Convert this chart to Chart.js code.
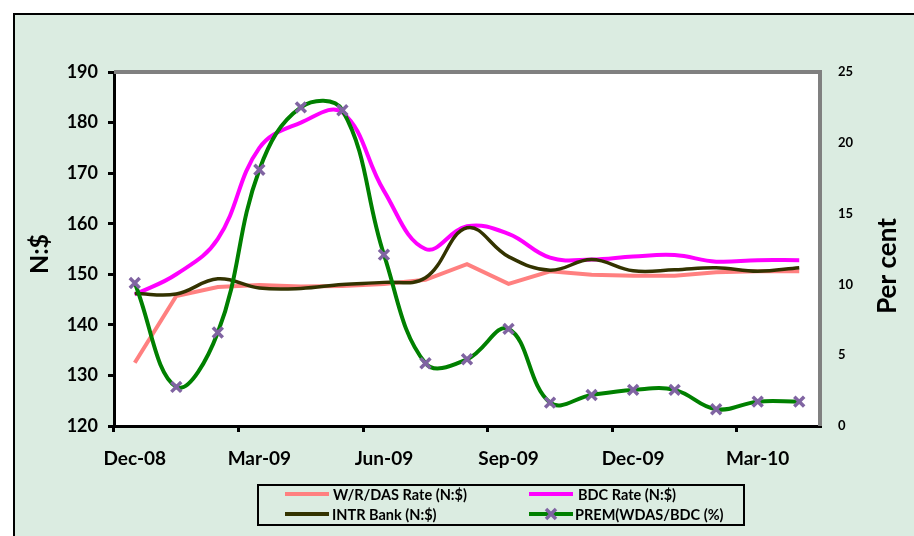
<!DOCTYPE html>
<html>
<head>
<meta charset="utf-8">
<script src="https://cdn.jsdelivr.net/npm/chart.js@4.4.1/dist/chart.umd.min.js"></script>
<style>
  html, body { margin: 0; padding: 0; background: #ffffff; }
  #wrap { width: 914px; height: 536px; position: relative; }
</style>
</head>
<body>
<div id="wrap"><canvas id="c" width="914" height="536"></canvas></div>
<script>
// Monthly observations, Dec-08 .. Apr-10
const months = ['Dec-08','Jan-09','Feb-09','Mar-09','Apr-09','May-09','Jun-09','Jul-09','Aug-09',
                'Sep-09','Oct-09','Nov-09','Dec-09','Jan-10','Feb-10','Mar-10','Apr-10'];

// Exchange rates, N:$
const wdasRate = [132.5, 145.7, 147.5, 147.9, 147.6, 147.7, 148.1, 148.9, 152.0, 148.1, 150.6, 149.9, 149.7, 149.7, 150.4, 150.6, 150.6];
const bdcRate  = [146.0, 150.0, 157.0, 175.0, 180.0, 182.0, 166.5, 155.0, 159.5, 158.0, 153.3, 152.9, 153.5, 153.8, 152.5, 152.8, 152.8];
const intrBank = [146.2, 146.1, 149.1, 147.3, 147.2, 148.0, 148.4, 149.3, 159.2, 153.5, 150.8, 152.9, 150.7, 150.9, 151.3, 150.6, 151.3];

// Premium of WDAS over BDC, per cent
const premium  = [10.1, 2.76, 6.6, 18.1, 22.5, 22.3, 12.1, 4.43, 4.71, 6.86, 1.65, 2.19, 2.55, 2.55, 1.18, 1.72, 1.72];

const legendNames = ['W/R/DAS Rate (N:$)', 'BDC Rate (N:$)', 'INTR Bank (N:$)', 'PREM(WDAS/BDC (%)'];
const leftTitle = 'N:$';
const rightTitle = 'Per cent';

const FONT = 'Lato, "Open Sans", "Liberation Sans", sans-serif';
const C_WDAS = '#ff8080', C_BDC = '#ff00ff', C_INTR = '#333300', C_PREM = '#008000', C_MARK = '#8064a2';

// Frame, plot background, plot border, axis titles and legend
const decor = {
  id: 'decor',
  beforeDraw(chart) {
    const { ctx, chartArea: a } = chart;
    ctx.save();
    ctx.fillStyle = '#ffffff';
    ctx.fillRect(0, 0, chart.width, chart.height);
    ctx.fillStyle = '#dbece1';
    ctx.fillRect(14, 14, chart.width, chart.height);
    ctx.strokeStyle = '#000000';
    ctx.lineWidth = 2;
    ctx.beginPath();
    ctx.moveTo(14, chart.height + 2);
    ctx.lineTo(14, 14);
    ctx.lineTo(chart.width + 2, 14);
    ctx.stroke();
    ctx.fillStyle = '#ffffff';
    ctx.fillRect(a.left, a.top, a.right - a.left, a.bottom - a.top);
    ctx.restore();
  },
  beforeDatasetsDraw(chart) {
    const { ctx, chartArea: a } = chart;
    ctx.save();
    ctx.strokeStyle = '#808080';
    ctx.lineWidth = 4;
    ctx.beginPath();
    ctx.moveTo(a.left, a.top);
    ctx.lineTo(a.right, a.top);
    ctx.lineTo(a.right, a.bottom);
    ctx.stroke();
    ctx.restore();
  },
  afterDraw(chart) {
    const { ctx } = chart;
    ctx.save();
    ctx.fillStyle = '#000000';
    ctx.textAlign = 'center';
    ctx.textBaseline = 'middle';
    // axis titles
    ctx.save();
    ctx.translate(40, 254);
    ctx.rotate(-Math.PI / 2);
    ctx.font = 'bold 25px ' + FONT;
    ctx.fillText(leftTitle, 0, 0);
    ctx.restore();
    ctx.save();
    ctx.translate(888, 266);
    ctx.rotate(-Math.PI / 2);
    ctx.font = 'bold 26px ' + FONT;
    ctx.fillText(rightTitle, 0, 0);
    ctx.restore();

    // legend box
    const bx = 258, by = 485, bw = 486, bh = 40;
    ctx.fillStyle = '#dbece1';
    ctx.fillRect(bx, by, bw, bh);
    ctx.strokeStyle = '#000000';
    ctx.lineWidth = 2;
    ctx.strokeRect(bx, by, bw, bh);
    const items = [
      { x: 285, y: 494, color: C_WDAS, w: 4, text: legendNames[0], tx: 333 },
      { x: 529, y: 494, color: C_BDC, w: 4, text: legendNames[1], tx: 578 },
      { x: 285, y: 514, color: C_INTR, w: 4, text: legendNames[2], tx: 332 },
      { x: 529, y: 514, color: C_PREM, w: 4, text: legendNames[3], tx: 575, marker: true }
    ];
    ctx.font = 'bold 14.5px ' + FONT;
    ctx.textAlign = 'left';
    items.forEach(it => {
      ctx.strokeStyle = it.color;
      ctx.lineWidth = it.w;
      ctx.beginPath();
      ctx.moveTo(it.x, it.y);
      ctx.lineTo(it.x + 44, it.y);
      ctx.stroke();
      if (it.marker) {
        const mx = it.x + 22, r = 5;
        ctx.strokeStyle = C_MARK;
        ctx.lineWidth = 3.5;
        ctx.beginPath();
        ctx.moveTo(mx - r, it.y - r); ctx.lineTo(mx + r, it.y + r);
        ctx.moveTo(mx + r, it.y - r); ctx.lineTo(mx - r, it.y + r);
        ctx.stroke();
      }
      ctx.fillStyle = '#000000';
      ctx.fillText(it.text, it.tx, it.y + 1);
    });
    ctx.restore();
  }
};

new Chart(document.getElementById('c'), {
  type: 'line',
  data: {
    labels: months,
    datasets: [
      { label: legendNames[3], data: premium, yAxisID: 'y1', order: 0,
        borderColor: C_PREM, borderWidth: 4, tension: 0.4,
        pointStyle: 'crossRot', pointRadius: 7, pointBorderColor: C_MARK,
        pointBackgroundColor: C_MARK, pointBorderWidth: 3.5 },
      { label: legendNames[2], data: intrBank, yAxisID: 'y', order: 1,
        borderColor: C_INTR, borderWidth: 3.5, tension: 0.4, pointRadius: 0 },
      { label: legendNames[1], data: bdcRate, yAxisID: 'y', order: 2,
        borderColor: C_BDC, borderWidth: 4, tension: 0.4, pointRadius: 0 },
      { label: legendNames[0], data: wdasRate, yAxisID: 'y', order: 3,
        borderColor: C_WDAS, borderWidth: 4, tension: 0, pointRadius: 0 }
    ]
  },
  options: {
    responsive: false,
    animation: false,
    layout: { padding: { top: 72, left: 0, right: 0, bottom: 0 } },
    plugins: { legend: { display: false }, tooltip: { enabled: false } },
    scales: {
      x: {
        type: 'category',
        offset: true,
        afterFit: s => { s.height = 110; },
        border: { color: '#000000', width: 3 },
        grid: {
          offset: true, drawOnChartArea: false, drawTicks: true, tickLength: 6,
          lineWidth: 3,
          color: c => (c.index !== undefined && c.index % 3 === 0) ? '#000000' : 'rgba(0,0,0,0)'
        },
        ticks: {
          autoSkip: false, maxRotation: 0, minRotation: 0, padding: 15,
          color: '#000000', font: { family: FONT, size: 19, weight: 'bold' },
          callback: (v, i) => (i % 3 === 0 ? months[i] : '')
        }
      },
      y: {
        position: 'left',
        min: 120, max: 190,
        afterFit: s => { s.width = 114; },
        border: { color: '#000000', width: 3 },
        grid: { drawOnChartArea: false, drawTicks: true, tickLength: 6, lineWidth: 3, color: '#000000' },
        ticks: { stepSize: 10, padding: 10, color: '#000000', font: { family: FONT, size: 18, weight: 'bold' } }
      },
      y1: {
        position: 'right',
        min: 0, max: 25,
        afterFit: s => { s.width = 94; },
        border: { display: false },
        grid: { display: false, drawTicks: false, drawOnChartArea: false },
        ticks: { stepSize: 5, padding: 18, color: '#000000', font: { family: FONT, size: 13, weight: 'bold' } }
      }
    }
  },
  plugins: [decor]
});
</script>
</body>
</html>
